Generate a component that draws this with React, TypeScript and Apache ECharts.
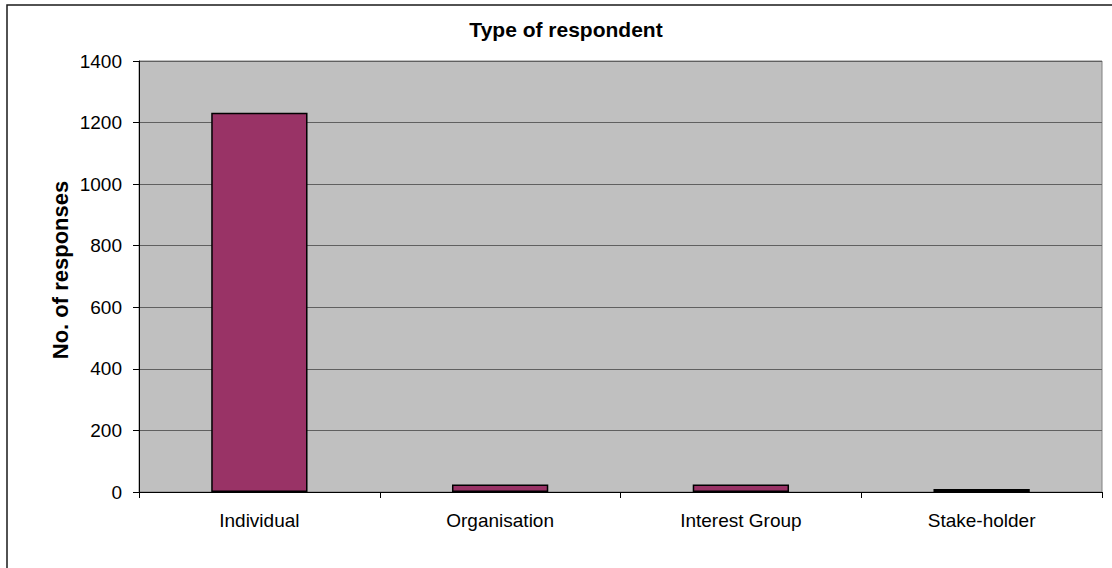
import React, { useEffect, useRef } from "react";
import * as echarts from "echarts";

const categories = ["Individual", "Organisation", "Interest Group", "Stake-holder"];
const responses = [1232, 24, 24, 10];
const yMin = 0;
const yMax = 1400;
const yStep = 200;
const chartTitle = "Type of respondent";
const yAxisTitle = "No. of responses";

const FONT = "'Liberation Sans', Arial, sans-serif";

export default function App() {
  const ref = useRef<HTMLDivElement>(null);

  useEffect(() => {
    if (!ref.current) return;
    const chart = echarts.init(ref.current, null, { renderer: "svg" });
    chart.setOption({
      animation: false,
      backgroundColor: "#ffffff",
      title: {
        text: chartTitle,
        left: 561,
        top: 14,
        textAlign: "center",
        textStyle: { fontFamily: FONT, fontSize: 21, fontWeight: "bold", color: "#000" },
      },
      graphic: [
        {
          type: "rect",
          shape: { x: 7, y: 5, width: 1300, height: 800 },
          style: { fill: "none", stroke: "#1a1a1a", lineWidth: 1.5 },
          silent: true,
        },
        {
          type: "text",
          x: 60,
          y: 270,
          rotation: Math.PI / 2,
          style: {
            text: yAxisTitle,
            fontFamily: FONT,
            fontSize: 22,
            fontWeight: "bold",
            fill: "#000",
            align: "center",
            verticalAlign: "middle",
          },
        },
      ],
      grid: {
        left: 139,
        right: 10,
        top: 61,
        bottom: 76,
        show: true,
        backgroundColor: "#c0c0c0",
        borderColor: "#808080",
        borderWidth: 1,
      },
      xAxis: {
        type: "category",
        data: categories,
        axisLine: { show: true, lineStyle: { color: "#000", width: 1 } },
        axisTick: { show: true, alignWithLabel: false, length: 6, lineStyle: { color: "#000" } },
        axisLabel: { fontFamily: FONT, fontSize: 19, color: "#000", margin: 19 },
        splitLine: { show: false },
      },
      yAxis: {
        type: "value",
        min: yMin,
        max: yMax,
        interval: yStep,
        axisLine: { show: true, lineStyle: { color: "#000", width: 1 } },
        axisTick: { show: true, length: 6, lineStyle: { color: "#000" } },
        axisLabel: {
          fontFamily: FONT,
          fontSize: 19,
          color: "#000",
          margin: 17,
          formatter: (v: number) => String(v),
        },
        splitLine: { show: true, lineStyle: { color: "#606060", width: 1 } },
      },
      series: [
        {
          type: "bar",
          data: responses,
          barWidth: "40%",
          itemStyle: { color: "#993366", borderColor: "#000", borderWidth: 1.5 },
        },
      ],
    });
    return () => chart.dispose();
  }, []);

  return (
    <div
      ref={ref}
      style={{ position: "fixed", left: 0, top: 0, width: 1112, height: 568 }}
    />
  );
}
